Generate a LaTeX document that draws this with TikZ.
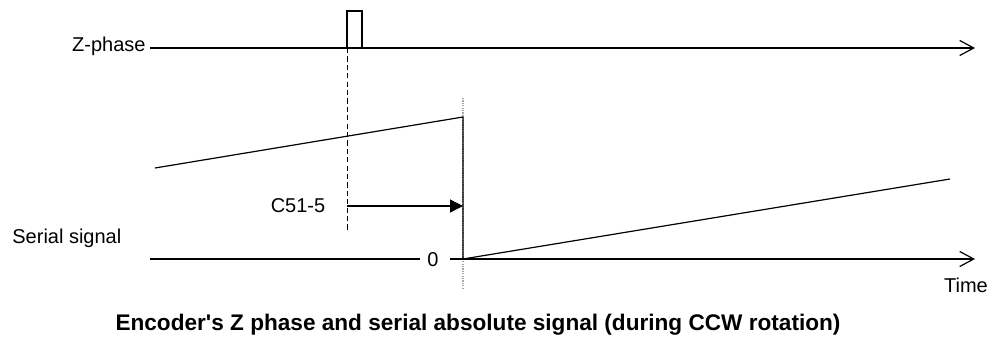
\documentclass[tikz,border=0pt]{standalone}
\usepackage{fontspec}
\setmainfont{Liberation Sans}
\usetikzlibrary{arrows.meta}
\begin{document}
\begin{tikzpicture}[x=0.5pt,y=-0.5pt,
  sig/.style={line width=0.6pt, black},
  axis/.style={sig, -{Straight Barb[length=7pt,width=7.5pt,line width=0.6pt]}},
  marker/.style={sig, -{Triangle[length=6.5pt,width=6.5pt]}},
  dashline/.style={line width=0.5pt, dash pattern=on 2.6pt off 1.6pt},
  dotline/.style={line width=0.6pt, gray!70, dash pattern=on 0.6pt off 0.6pt},
  lbl/.style={font=\fontsize{10}{12}\selectfont, inner sep=0pt},
  captext/.style={font=\fontsize{11.3}{13}\selectfont\bfseries, inner sep=0pt}]
\useasboundingbox (0,0) rectangle (996,338);
% labels
\node[lbl, anchor=east] (zlab) at (146,46) {Z-phase};
\node[lbl, anchor=west] (slab) at (12,238) {Serial signal};
\node[lbl] (clab) at (298,206) {C51-5};
\node[lbl] (zero) at (433,260) {0};
\node[lbl] (time) at (966,285) {Time};
\node[captext] (caption) at (478,325) {Encoder\textquotesingle s Z phase and serial absolute signal (during CCW rotation)};
% coordinates
\coordinate (zs) at (150,48);
\coordinate (ze) at (975,48);
\coordinate (p1) at (347,48);
\coordinate (p2) at (347,11);
\coordinate (p3) at (362,11);
\coordinate (p4) at (362,48);
\coordinate (d1) at (347,230);
\coordinate (t1) at (463,98);
\coordinate (t2) at (463,288);
\coordinate (r1) at (155,168);
\coordinate (r2) at (463,117);
\coordinate (r3) at (463,259);
\coordinate (r4) at (950,179);
\coordinate (bs) at (150,259);
\coordinate (b1) at (420,259);
\coordinate (b2) at (450,259);
\coordinate (be) at (975,259);
\coordinate (a1) at (347,206);
\coordinate (a2) at (463,206);
% Z-phase
\draw[axis] (zs) -- (ze);
\draw[sig] (p1) -- (p2) -- (p3) -- (p4);
\draw[dashline] (p1) -- (d1);
\draw[dotline] (t1) -- (t2);
% serial
\draw[sig] (r1) -- (r2) -- (r3) -- (r4);
\draw[sig] (bs) -- (b1);
\draw[axis] (b2) -- (be);
\draw[marker] (a1) -- (a2);
\end{tikzpicture}
\end{document}
